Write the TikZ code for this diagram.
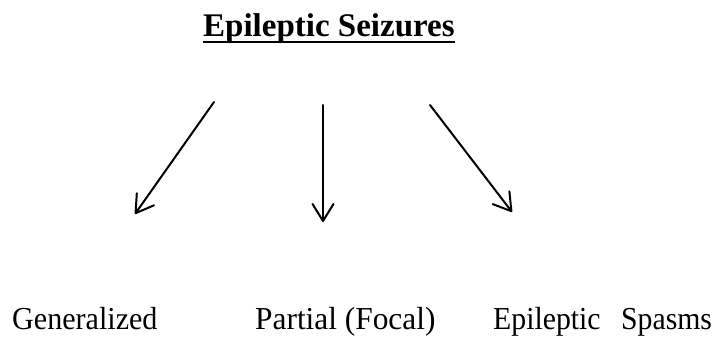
\documentclass[tikz,border=0pt]{standalone}
\usepackage{fontspec}
\setmainfont{Liberation Serif}
\usetikzlibrary{arrows.meta}
\tikzset{
  label/.style={inner sep=0pt, anchor=base west, font=\fontsize{32}{38}\selectfont},
  titletext/.style={inner sep=0pt, anchor=base west, font=\fontsize{33}{40}\selectfont\bfseries},
  arr/.style={line width=2pt, line cap=round, -{Straight Barb[length=17pt,width=21pt,line width=2pt,round]}},
}
\begin{document}
\begin{tikzpicture}[x=1pt,y=-1pt]
\useasboundingbox (0,0) rectangle (716,337);
\node[titletext] (title) at (203,37) {Epileptic Seizures};
\draw[line width=2.5pt] ([yshift=-5pt]title.base west) -- ([yshift=-5pt]title.base east);
\coordinate (a1s) at (214,102); \coordinate (a1e) at (135,214);
\coordinate (a2s) at (323,105); \coordinate (a2e) at (323,222);
\coordinate (a3s) at (430,105); \coordinate (a3e) at (512,212);
\draw[arr] (a1s) -- (a1e);
\draw[arr] (a2s) -- (a2e);
\draw[arr] (a3s) -- (a3e);
\node[label] (gen) at (12,329) {\scalebox{0.94}[1]{Generalized}};
\node[label] (par) at (255,329) {\scalebox{0.98}[1]{Partial (Focal)}};
\node[label] (spa) at (493,329) {\scalebox{0.93}[1]{Epileptic\hspace{22pt}Spasms}};
\end{tikzpicture}
\end{document}
